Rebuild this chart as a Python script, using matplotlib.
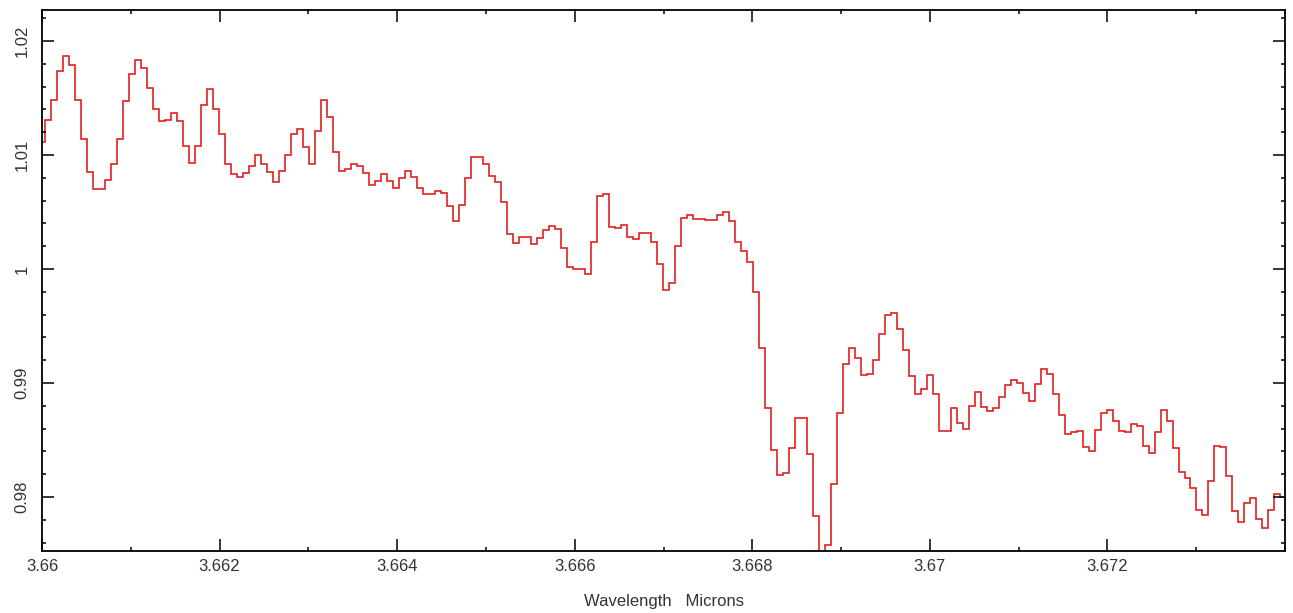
import numpy as np
import matplotlib
matplotlib.use("Agg")
import matplotlib.pyplot as plt
from matplotlib.ticker import MultipleLocator, FixedLocator

plt.rcParams['font.family'] = ['Liberation Sans', 'DejaVu Sans']

# spectrum: flux per wavelength bin (uniform bins)
wave_start = 3.65997
wave_step = 0.00006753
flux = [
    1.0111, 1.0131, 1.0148, 1.0174, 1.0187, 1.0179, 1.0148, 1.0114, 1.0085, 1.0070,
    1.0070, 1.0078, 1.0092, 1.0114, 1.0147, 1.0171, 1.0183, 1.0176, 1.0159, 1.0140,
    1.0130, 1.0131, 1.0137, 1.0130, 1.0108, 1.0093, 1.0108, 1.0144, 1.0158, 1.0140,
    1.0118, 1.0092, 1.0083, 1.0081, 1.0084, 1.0090, 1.0100, 1.0092, 1.0085, 1.0076,
    1.0086, 1.0100, 1.0118, 1.0123, 1.0107, 1.0092, 1.0121, 1.0148, 1.0133, 1.0103,
    1.0086, 1.0088, 1.0092, 1.0090, 1.0084, 1.0074, 1.0077, 1.0083, 1.0077, 1.0071,
    1.0080, 1.0086, 1.0081, 1.0071, 1.0066, 1.0066, 1.0068, 1.0067, 1.0055, 1.0042,
    1.0056, 1.0080, 1.0098, 1.0098, 1.0092, 1.0082, 1.0076, 1.0059, 1.0031, 1.0023,
    1.0028, 1.0028, 1.0022, 1.0027, 1.0034, 1.0038, 1.0035, 1.0018, 1.0002, 1.0000,
    1.0000, 0.9996, 1.0024, 1.0064, 1.0066, 1.0037, 1.0036, 1.0039, 1.0028, 1.0026,
    1.0032, 1.0032, 1.0024, 1.0004, 0.9982, 0.99875, 1.0020, 1.0045, 1.0047, 1.0044,
    1.0044, 1.0043, 1.0043, 1.0047, 1.0050, 1.0042, 1.0024, 1.0016, 1.0006, 0.9980,
    0.9931, 0.9878, 0.9841, 0.9819, 0.9821, 0.9843, 0.9869, 0.9869, 0.9838, 0.9783,
    0.9748, 0.9758, 0.9811, 0.9874, 0.9917, 0.9931, 0.9922, 0.9907, 0.9908, 0.9920,
    0.9943, 0.9960, 0.9961, 0.9947, 0.9929, 0.9906, 0.9890, 0.9895, 0.9907, 0.9890,
    0.9858, 0.9858, 0.9878, 0.9865, 0.9860, 0.9880, 0.9892, 0.9879, 0.9875, 0.9878,
    0.9888, 0.9898, 0.9903, 0.9900, 0.9891, 0.9884, 0.9899, 0.9912, 0.9908, 0.9890,
    0.9872, 0.9855, 0.9857, 0.9858, 0.9844, 0.9840, 0.9859, 0.9874, 0.9876, 0.9867,
    0.9858, 0.9857, 0.9864, 0.9862, 0.9845, 0.9839, 0.9857, 0.9876, 0.9867, 0.9843,
    0.9822, 0.9817, 0.9808, 0.9789, 0.9784, 0.9814, 0.9845, 0.9844, 0.9818, 0.9788,
    0.9778, 0.9795, 0.9799, 0.9781, 0.9773, 0.9789, 0.9803, 0.9800,
]

x_ticks = [3.66, 3.662, 3.664, 3.666, 3.668, 3.67, 3.672]
x_tick_labels = ["3.66", "3.662", "3.664", "3.666", "3.668", "3.67", "3.672"]
y_ticks = [0.98, 0.99, 1.0, 1.01, 1.02]
y_tick_labels = ["0.98", "0.99", "1", "1.01", "1.02"]
x_label = "Wavelength   Microns"

edges = wave_start + wave_step * np.arange(len(flux) + 1)

fig = plt.figure(figsize=(12.93, 6.13), dpi=100)
ax = fig.add_axes([0.0325, 0.1011, 0.9613, 0.8826])

ax.stairs(flux, edges, color="#e02020", linewidth=1.2, baseline=None)

ax.set_xlim(3.66, 3.674)
ax.set_ylim(0.97526, 1.02272)

ax.xaxis.set_major_locator(FixedLocator(x_ticks))
ax.set_xticklabels(x_tick_labels)
ax.xaxis.set_minor_locator(MultipleLocator(0.001))
ax.yaxis.set_major_locator(FixedLocator(y_ticks))
ax.set_yticklabels(y_tick_labels)
ax.yaxis.set_minor_locator(MultipleLocator(0.002))

ax.tick_params(which="both", direction="in", top=True, right=True,
               width=1.1, color="black")
ax.tick_params(which="major", length=8.5)
ax.tick_params(which="minor", length=3)
ax.tick_params(axis="x", which="major", labelsize=12, pad=6, labelcolor="#333333")
ax.tick_params(axis="y", which="major", labelsize=12, pad=9, labelcolor="#333333",
               labelrotation=90)
for lab in ax.get_yticklabels():
    lab.set_verticalalignment("center")

for s in ax.spines.values():
    s.set_linewidth(1.3)
    s.set_color("black")

ax.set_xlabel(x_label, fontsize=12, color="#333333", labelpad=14)

fig.savefig("out.png", dpi=100)
